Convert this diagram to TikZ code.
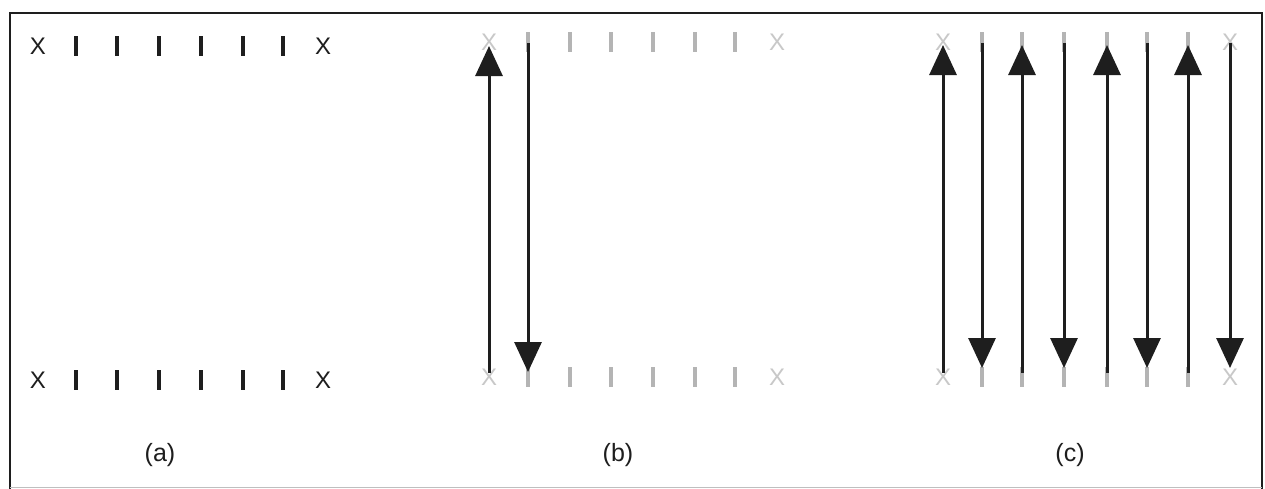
\documentclass[tikz,border=0pt]{standalone}
\usepackage{fontspec}
\setmainfont{Liberation Sans}
\usetikzlibrary{arrows.meta}
\definecolor{markgray}{HTML}{B4B4B4}
\definecolor{xgray}{HTML}{C8C8C8}
\definecolor{ink}{HTML}{1E1E1E}
\tikzset{
  xmark/.style={inner sep=0pt, font=\fontsize{24}{24}\selectfont, text=ink},
  barmark/.style={inner sep=0pt, minimum width=4pt, minimum height=20pt, fill=ink, draw=none},
  arr/.style={line width=3pt, draw=ink, -{Triangle[length=30pt,width=27pt]}},
  lbl/.style={inner sep=0pt, font=\fontsize{25}{25}\selectfont, text=ink},
  frame/.style={line width=2pt, draw=ink}
}
\begin{document}
\begin{tikzpicture}[x=1pt,y=-1pt]
\useasboundingbox (0,0) rectangle (1265,488);
\fill[white] (0,0) rectangle (1265,488);
\draw[frame] (10,489) -- (10,13) -- (1262,13) -- (1262,489);
\draw[line width=1pt, draw=black!25] (10,487) -- (1262,487);

% (a)
\node[xmark] (at0) at (38,46) {X};
\node[xmark] (at7) at (323,46) {X};
\node[xmark] (ab0) at (38,380) {X};
\node[xmark] (ab7) at (323,380) {X};
\foreach \i/\x in {1/76,2/117,3/159,4/201,5/243,6/283} {
  \node[barmark] (at\i) at (\x,46) {};
  \node[barmark] (ab\i) at (\x,380) {};
}
\node[lbl] (la) at (160,455) {(a)};

% (b)
\node[xmark, text=xgray] (bt0) at (489,42) {X};
\node[xmark, text=xgray] (bt7) at (777,42) {X};
\node[xmark, text=xgray] (bb0) at (489,377) {X};
\node[xmark, text=xgray] (bb7) at (777,377) {X};
\foreach \i/\x in {1/528,2/570,3/611,4/653,5/695,6/735} {
  \node[barmark, fill=markgray] (bt\i) at (\x,42) {};
  \node[barmark, fill=markgray] (bb\i) at (\x,377) {};
}
\draw[arr, shorten <=4pt, shorten >=4pt] (bb0.center) -- (bt0.center);
\draw[arr, shorten <=1pt, shorten >=5pt] (bt1.center) -- (bb1.center);
\node[lbl] (lb) at (618,455) {(b)};

% (c)
\node[xmark, text=xgray] (ct0) at (943,42) {X};
\node[xmark, text=xgray] (ct7) at (1230,42) {X};
\node[xmark, text=xgray] (cb0) at (943,377) {X};
\node[xmark, text=xgray] (cb7) at (1230,377) {X};
\foreach \i/\x in {1/982,2/1022,3/1064,4/1107,5/1147,6/1188} {
  \node[barmark, fill=markgray] (ct\i) at (\x,42) {};
  \node[barmark, fill=markgray] (cb\i) at (\x,377) {};
}
\foreach \i in {0,2,4,6} {
  \draw[arr, shorten <=4pt, shorten >=3pt] (cb\i.center) -- (ct\i.center);
}
\foreach \i in {1,3,5,7} {
  \draw[arr, shorten <=1pt, shorten >=9pt] (ct\i.center) -- (cb\i.center);
}
\node[lbl] (lc) at (1070,455) {(c)};
\end{tikzpicture}
\end{document}
